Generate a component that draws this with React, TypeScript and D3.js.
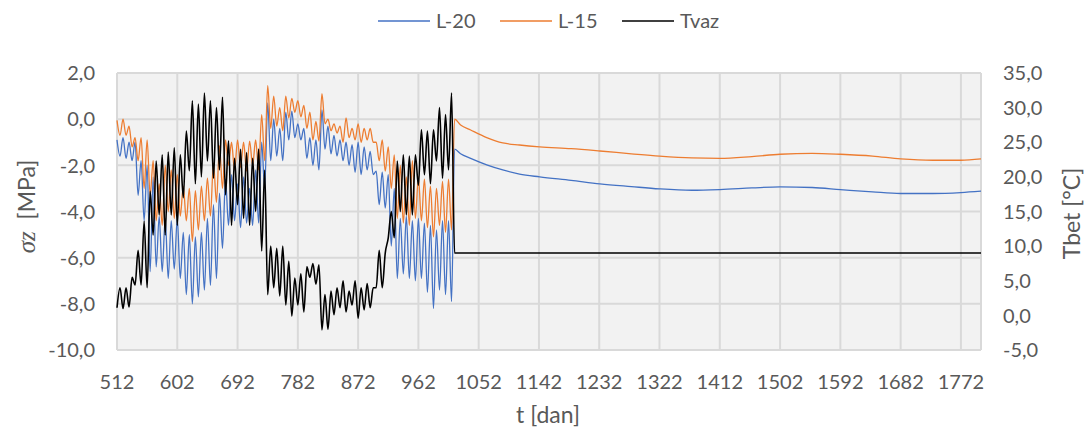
import React from 'react';
import * as d3 from 'd3';

// Oscillating phase: local extrema (days, stress in MPa, temperature in °C)
const oscDays = [
  512, 516.5, 521, 525.5, 530, 534.5, 539, 543.5, 548, 552.5, 557, 561.5, 566, 570.5, 575, 579.5,
  584, 588.5, 593, 597.5, 602, 606.5, 611, 615.5, 620, 624.5, 629, 633.5, 638, 642.5, 647, 651.5,
  656, 660.5, 665, 669.5, 674, 678.5, 683, 687.5, 692, 696.5, 701, 705.5, 710, 714.5, 719, 723.5,
  728, 732.5, 737, 741.5, 746, 750.5, 755, 759.5, 764, 768.5, 773, 777.5, 782, 786.5, 791, 795.5,
  800, 804.5, 809, 813.5, 818, 822.5, 827, 831.5, 836, 840.5, 845, 849.5, 854, 858.5, 863, 867.5,
  872, 876.5, 881, 885.5, 890, 894.5, 899, 903.5, 908, 912.5, 917, 921.5, 926, 930.5, 935, 939.5,
  944, 948.5, 953, 957.5, 962, 966.5, 971, 975.5, 980, 984.5, 989, 993.5, 998, 1002.5, 1007, 1011.5,
];

const oscL20 = [
  -0.9, -1.6, -0.8, -1.7, -1.0, -1.8, -1.0, -3.3, -1.8, -4.4, -2.0, -6.6, -2.5, -6.4, -4.2, -6.6,
  -4.3, -6.9, -4.4, -6.5, -4.3, -6.9, -4.9, -7.6, -5.0, -8.0, -5.1, -7.7, -4.9, -7.4, -4.3, -7.2,
  -3.7, -6.9, -3.2, -5.6, -2.6, -4.6, -2.4, -4.4, -2.8, -4.7, -2.5, -4.5, -3.0, -4.6, -2.2, -4.5,
  -1.0, -3.0, 0.7, -1.8, 0.0, -1.6, -0.4, -1.8, 0.3, -0.9, 0.35, -0.8, -0.2, -0.9, -0.4, -1.7,
  -0.8, -2.0, -0.9, -2.2, 0.4, -1.3, -0.3, -1.5, -0.7, -1.6, -0.9, -1.8, -1.0, -2.0, -1.1, -2.3,
  -1.0, -2.4, -1.2, -2.2, -1.4, -2.4, -2.25, -3.7, -2.3, -3.85, -2.4, -5.5, -3.0, -6.9, -4.3, -6.7,
  -4.2, -6.9, -4.4, -7.0, -4.3, -6.9, -4.5, -7.5, -4.6, -8.2, -4.8, -7.4, -4.4, -7.6, -4.4, -7.9,
];

const oscL15 = [
  -0.05, -0.7, 0.0, -0.7, -0.3, -1.2, -0.8, -1.8, -0.8, -3.0, -0.9, -3.3, -1.8, -4.4, -2.8, -4.6,
  -2.0, -4.0, -2.2, -4.3, -2.4, -4.2, -2.9, -4.4, -3.0, -5.3, -3.1, -4.8, -2.9, -4.4, -2.55, -4.2,
  -1.9, -3.6, -1.15, -3.0, -0.9, -2.0, -1.0, -2.2, -0.9, -2.1, -1.0, -2.25, -0.95, -2.0, -0.9, -2.2,
  0.2, -1.8, 1.45, -0.4, 1.0, -0.3, 0.5, -0.5, 1.0, 0.05, 0.9, 0.3, 0.8, 0.1, 0.6, -0.4,
  0.3, -0.9, -0.1, -0.95, 1.1, -0.2, 0.0, -0.5, -0.2, -0.6, -0.3, -1.0, 0.05, -0.8, -0.4, -0.9,
  -0.2, -1.0, -0.4, -0.9, -0.4, -1.0, -1.0, -1.8, -0.9, -2.25, -1.2, -3.0, -1.55, -4.3, -2.0, -4.5,
  -2.5, -4.6, -1.8, -4.3, -2.5, -4.4, -2.6, -4.7, -2.9, -5.1, -3.0, -4.6, -2.7, -4.9, -2.6, -4.8,
];

const oscTvaz = [
  1.1, 4.0, 1.0, 4.0, 1.2, 5.5, 4.4, 9.4, 4.4, 13.6, 4.0, 17.9, 11.6, 22.3, 14.5, 23.2,
  11.6, 23.6, 14.5, 24.2, 13.0, 23.2, 17.0, 26.6, 20.9, 31.0, 19.0, 30.5, 20.0, 32.1, 22.3, 31.0,
  19.8, 30.0, 21.0, 31.5, 17.4, 25.2, 13.0, 22.7, 16.0, 24.0, 14.0, 23.5, 13.0, 22.7, 15.0, 24.0,
  9.3, 21.0, 3.0, 10.0, 4.0, 9.7, 2.8, 10.0, 1.5, 7.8, -0.1, 5.4, 1.5, 6.0, 0.5, 7.0,
  5.5, 7.5, 4.5, 7.3, -2.1, 3.0, -2.0, 3.5, 0.1, 4.0, 1.1, 5.0, 0.5, 3.5, 1.5, 5.0,
  -0.4, 4.0, 0.8, 4.6, 1.1, 4.0, 4.0, 9.4, 4.0, 9.0, 11.2, 15.0, 11.2, 22.3, 15.0, 23.2,
  14.5, 23.0, 14.5, 23.2, 18.8, 26.8, 20.3, 26.6, 19.0, 26.8, 22.3, 30.0, 19.8, 29.0, 21.0, 32.1,
];

// Steady phase after the forms are removed
const tailDays = [1016, 1025, 1040, 1064, 1088, 1113, 1143, 1190, 1233, 1280, 1322, 1370, 1412, 1460, 1502, 1550, 1592, 1640, 1682, 1730, 1772, 1802];
const tailL20 = [-1.3, -1.5, -1.7, -1.98, -2.2, -2.38, -2.5, -2.65, -2.8, -2.92, -3.02, -3.08, -3.05, -2.98, -2.93, -2.96, -3.05, -3.15, -3.22, -3.22, -3.18, -3.12];
const tailL15 = [0.0, -0.25, -0.47, -0.8, -1.03, -1.12, -1.2, -1.28, -1.38, -1.5, -1.6, -1.68, -1.7, -1.62, -1.52, -1.48, -1.52, -1.6, -1.72, -1.78, -1.78, -1.72];
const tvazTailDays = [1016, 1802];
const tvazTail = [9.0, 9.0];

const xTicks = [512, 602, 692, 782, 872, 962, 1052, 1142, 1232, 1322, 1412, 1502, 1592, 1682, 1772];
const leftTicks = [-10, -8, -6, -4, -2, 0, 2];
const rightTicks = [-5, 0, 5, 10, 15, 20, 25, 30, 35];
const seriesNames = ['L-20', 'L-15', 'Tvaz'];

const COLORS = ['#4472C4', '#ED7D31', '#000000'];
const TEXT = '#595959';
const GRID = '#D9D9D9';
const FONT = 'Lato, "Open Sans", sans-serif';

const W = 1086;
const H = 435;
const plot = { left: 117, right: 981, top: 73, bottom: 350 };

const locale = d3.formatLocale({ decimal: ',', thousands: '.', grouping: [3], currency: ['', ''], minus: '-' });
const fmt = locale.format('.1f');

function zip(days: number[], vals: number[]): [number, number][] {
  return days.map((d, i) => [d, vals[i]] as [number, number]);
}

export default function App() {
  const x = d3.scaleLinear().domain([512, 1802]).range([plot.left, plot.right]);
  const yL = d3.scaleLinear().domain([-10, 2]).range([plot.bottom, plot.top]);
  const yR = d3.scaleLinear().domain([-5, 35]).range([plot.bottom, plot.top]);

  const lineL = d3.line<[number, number]>().x((d) => x(d[0])).y((d) => yL(d[1])).curve(d3.curveMonotoneX);
  const lineR = d3.line<[number, number]>().x((d) => x(d[0])).y((d) => yR(d[1])).curve(d3.curveMonotoneX);

  const l20 = zip(oscDays, oscL20).concat(zip(tailDays, tailL20));
  const l15 = zip(oscDays, oscL15).concat(zip(tailDays, tailL15));
  const tvaz = zip(oscDays, oscTvaz).concat(zip(tvazTailDays, tvazTail));

  const legendX = [378, 500, 622];

  return (
    <svg width={W} height={H} style={{ position: 'absolute', left: 0, top: 0, background: '#fff' }} fontFamily={FONT}>
      <rect x={plot.left} y={plot.top} width={plot.right - plot.left} height={plot.bottom - plot.top} fill="#F2F2F2" />
      {leftTicks.map((t) => (
        <line key={'h' + t} x1={plot.left} x2={plot.right} y1={yL(t)} y2={yL(t)} stroke={GRID} strokeWidth={2} />
      ))}
      {xTicks.concat([1802]).map((t) => (
        <line key={'v' + t} x1={x(t)} x2={x(t)} y1={plot.top} y2={plot.bottom} stroke={GRID} strokeWidth={2} />
      ))}

      <path d={lineL(l20) || ''} fill="none" stroke={COLORS[0]} strokeWidth={1.3} strokeLinejoin="round" />
      <path d={lineL(l15) || ''} fill="none" stroke={COLORS[1]} strokeWidth={1.3} strokeLinejoin="round" />
      <path d={lineR(tvaz) || ''} fill="none" stroke={COLORS[2]} strokeWidth={1.6} strokeLinejoin="round" />

      {leftTicks.map((t) => (
        <text key={'lt' + t} x={95} y={yL(t)} dy="0.36em" textAnchor="end" fontSize={20} fill={TEXT}>{fmt(t)}</text>
      ))}
      {rightTicks.map((t) => (
        <text key={'rt' + t} x={1003} y={yR(t)} dy="0.36em" textAnchor="start" fontSize={20} fill={TEXT}>{fmt(t)}</text>
      ))}
      {xTicks.map((t) => (
        <text key={'xt' + t} x={x(t)} y={389} textAnchor="middle" fontSize={20} fill={TEXT}>{t}</text>
      ))}

      <text x={548} y={423} textAnchor="middle" fontSize={23} fill={TEXT}>t [dan]</text>
      <text transform={`translate(35,${(plot.top + plot.bottom) / 2 - 5}) rotate(-90)`} textAnchor="middle" fontSize={23} fill={TEXT}>
        <tspan fontStyle="italic" fontFamily='"Liberation Serif", serif' fontSize={25}>σz</tspan>
        <tspan>{'\u00a0 [MPa]'}</tspan>
      </text>
      <text transform={`translate(1080,${(plot.top + plot.bottom) / 2 + 2}) rotate(-90)`} textAnchor="middle" fontSize={23} fill={TEXT}>Tbet [°C]</text>

      {seriesNames.map((n, i) => (
        <g key={n}>
          <line x1={legendX[i]} x2={legendX[i] + 52} y1={21} y2={21} stroke={COLORS[i]} strokeWidth={1.6} />
          <text x={legendX[i] + 58} y={28} fontSize={20} fill={TEXT}>{n}</text>
        </g>
      ))}
    </svg>
  );
}
